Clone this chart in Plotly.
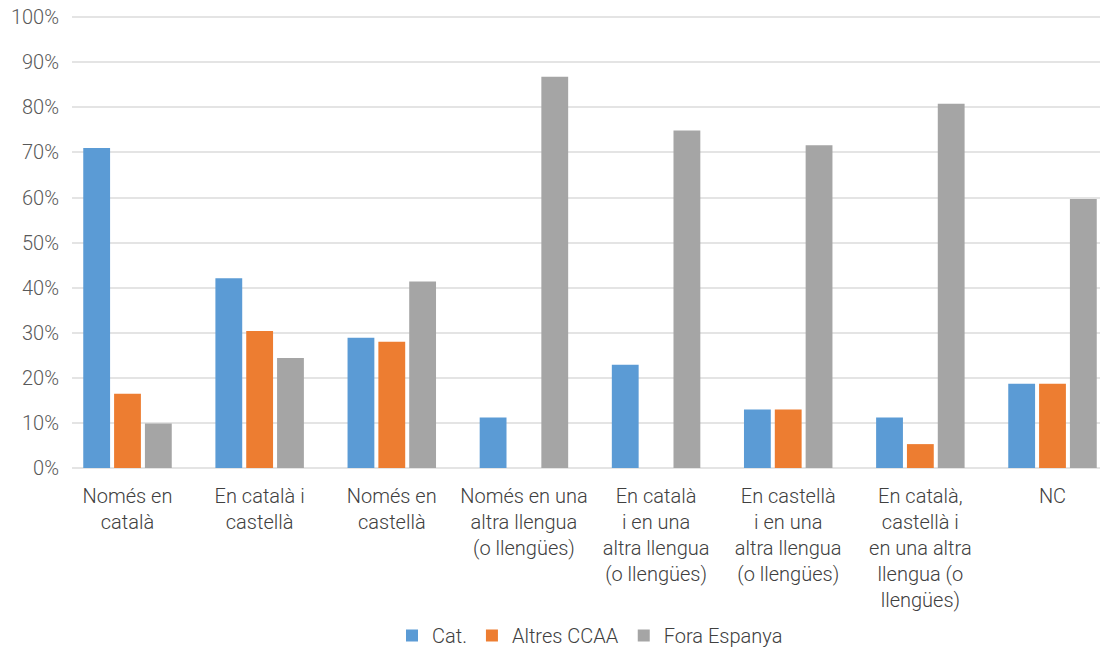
import plotly.graph_objects as go

categories = [
    "Només en<br>català",
    "En català i<br>castellà",
    "Només en<br>castellà",
    "Només en una<br>altra llengua<br>(o llengües)",
    "En català<br>i en una<br>altra llengua<br>(o llengües)",
    "En castellà<br>i en una<br>altra llengua<br>(o llengües)",
    "En català,<br>castellà i<br>en una altra<br>llengua (o<br>llengües)",
    "NC",
]
cat_vals = [71, 42.1, 28.9, 11.2, 22.9, 13.0, 11.2, 18.7]
altres_vals = [16.5, 30.4, 28.0, 0, 0, 13.0, 5.3, 18.7]
fora_vals = [9.9, 24.4, 41.4, 86.8, 74.9, 71.6, 80.8, 59.7]
series_names = ["Cat.", "Altres CCAA", "Fora Espanya"]
colors = ["#5b9bd5", "#ed7d31", "#a5a5a5"]
y_ticks = list(range(0, 101, 10))
y_labels = [f"{v}%" for v in y_ticks]

FONT = "Roboto"
FS = 20

fig = go.Figure()
for name, vals, c in zip(series_names, [cat_vals, altres_vals, fora_vals], colors):
    fig.add_trace(go.Bar(x=list(range(len(categories))), y=vals, name=name,
                         marker=dict(color=c, line=dict(width=0))))

fig.update_layout(
    width=1100, height=639,
    margin=dict(l=64, r=0, t=7, b=179, autoexpand=False),
    paper_bgcolor="white", plot_bgcolor="white",
    barmode="group", bargap=0.30, bargroupgap=0.13,
    font=dict(family=FONT, size=FS, color="#595959", weight=300),
    xaxis=dict(range=[-0.42, 7.42], tickmode="array",
               tickvals=list(range(len(categories))), ticktext=categories,
               showgrid=False, zeroline=False, showline=False, ticks="",
               ticklabelstandoff=14,
               tickfont=dict(family=FONT, size=FS, color="#404040", weight=300)),
    yaxis=dict(range=[0, 100.5], tickmode="array", tickvals=y_ticks, ticktext=y_labels,
               showgrid=True, gridcolor="#e4e4e4", gridwidth=1.5,
               zeroline=True, zerolinecolor="#e4e4e4", zerolinewidth=1.5,
               showline=False, ticks="", ticklabelstandoff=12,
               ticklabeloverflow="allow",
               tickfont=dict(family=FONT, size=FS, color="#595959", weight=300)),
    legend=dict(orientation="h", x=0.5, xanchor="center",
                yref="container", y=0.018, yanchor="middle",
                font=dict(family=FONT, size=FS, color="#404040", weight=300),
                itemwidth=30, traceorder="normal"),
)

fig.write_html("out.html")
